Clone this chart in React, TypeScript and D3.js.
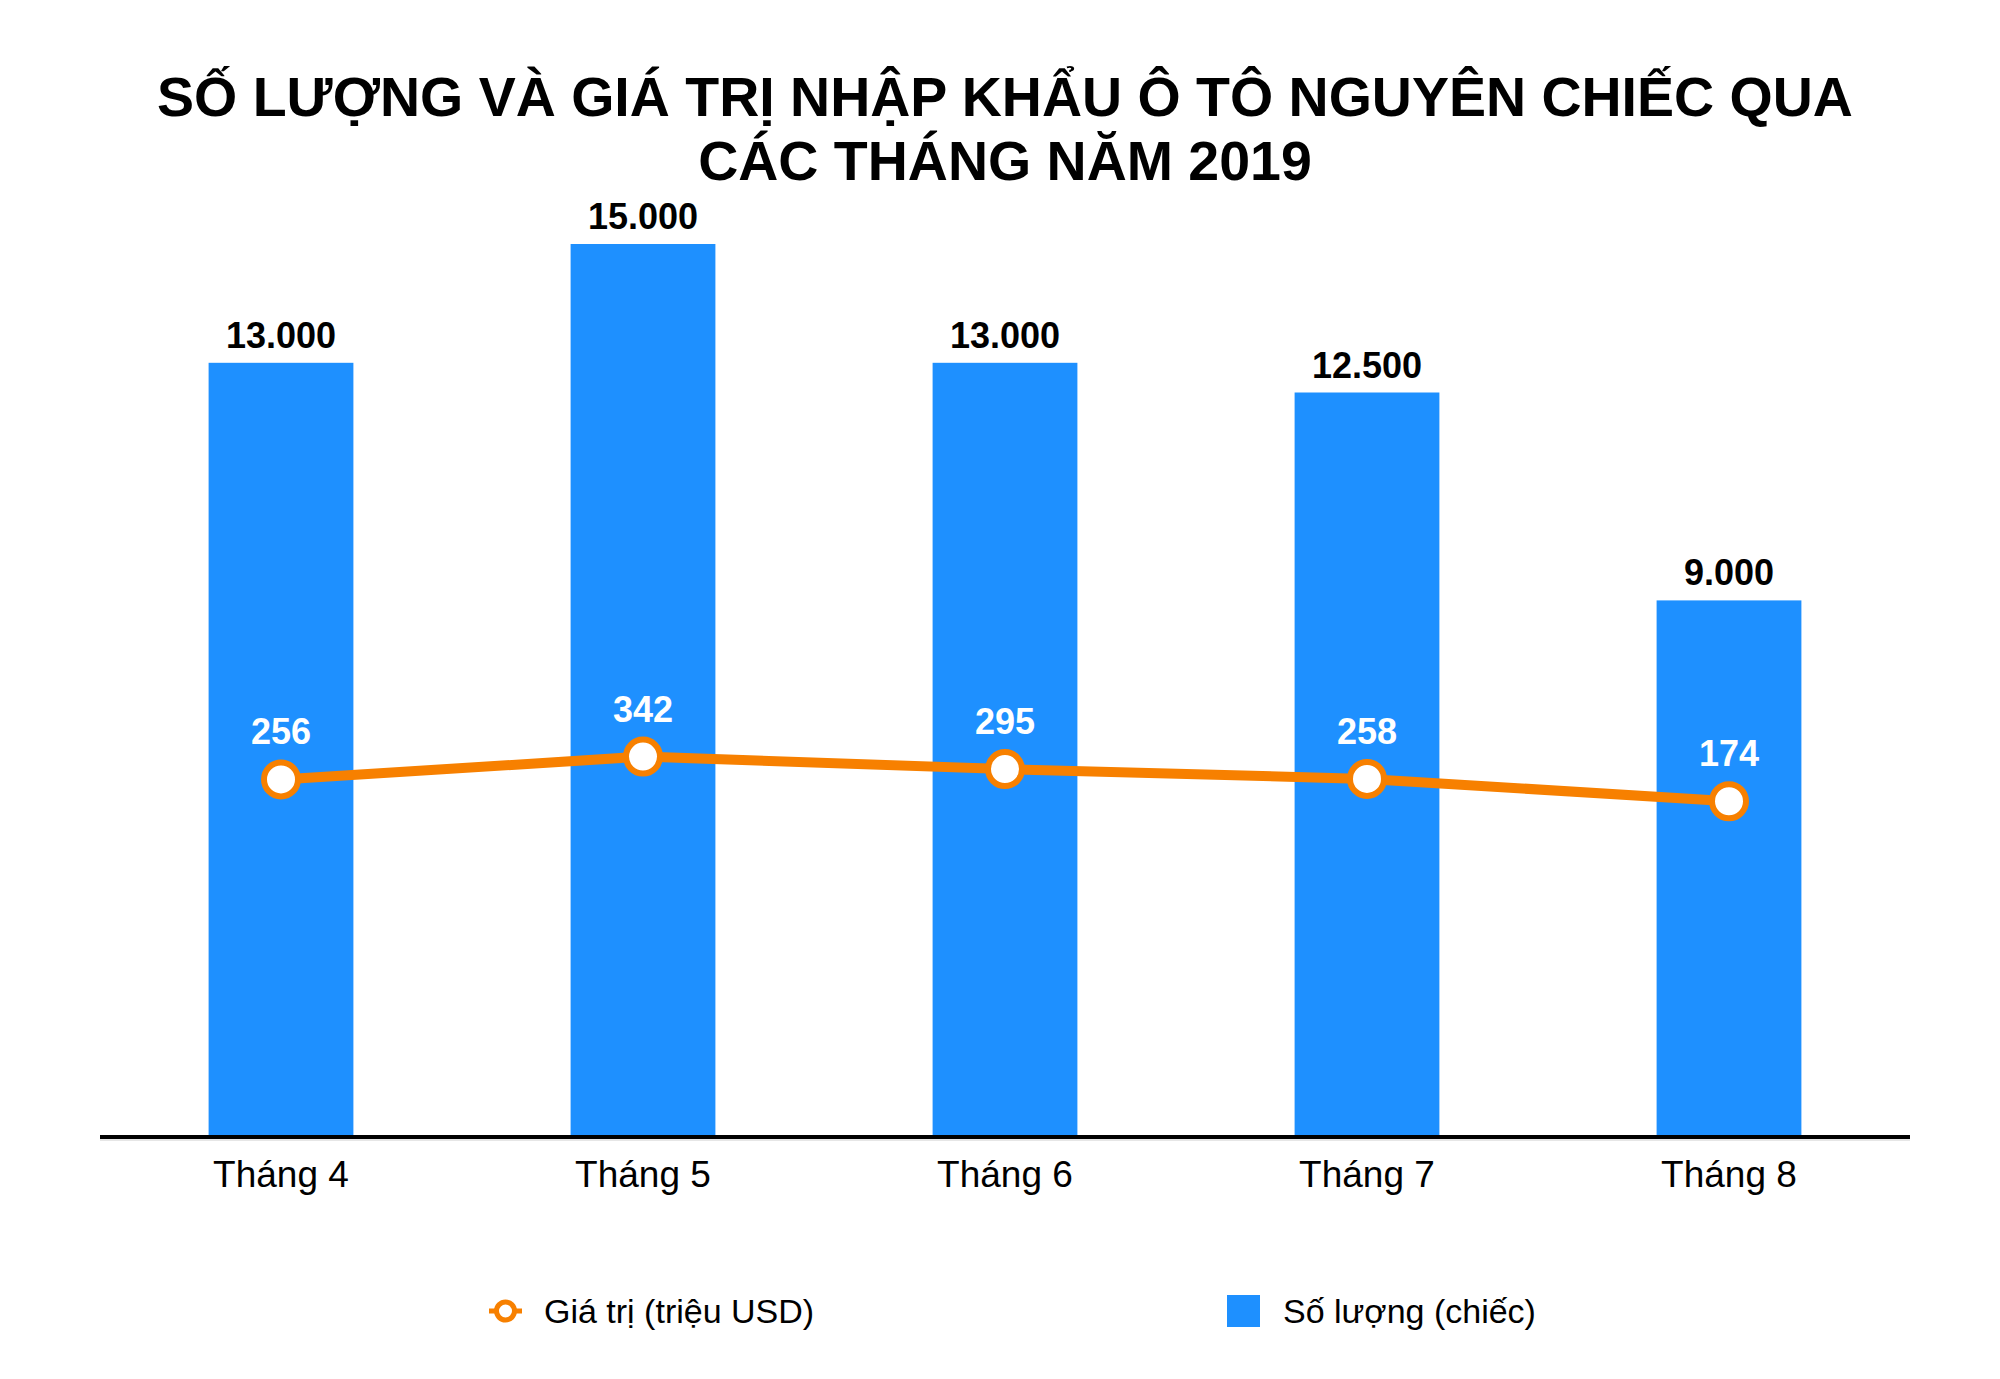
import React from "react";
import * as d3 from "d3";

const months = ["Tháng 4", "Tháng 5", "Tháng 6", "Tháng 7", "Tháng 8"];
const quantity = [13000, 15000, 13000, 12500, 9000];
const value = [256, 342, 295, 258, 174];
const titleLines = [
    "SỐ LƯỢNG VÀ GIÁ TRỊ NHẬP KHẨU Ô TÔ NGUYÊN CHIẾC QUA",
    "CÁC THÁNG NĂM 2019",
];
const legendLabels = ["Giá trị (triệu USD)", "Số lượng (chiếc)"];

const W = 2000;
const H = 1379;
const BLUE = "#1e90ff";
const ORANGE = "#f78000";
const FONT = "'Liberation Sans', Arial, Helvetica, sans-serif";

// thousands with a dot, like 13.000
const fmt = (v: number) => d3.format(",")(v).replace(/,/g, ".");

export default function App() {
    const x = d3.scaleBand<string>().domain(months).range([100, 1910]).padding(0);
    const y = d3.scaleLinear().domain([0, 15000]).range([1135, 244]);
    const y2 = d3.scaleLinear().domain([0, 400]).range([847.5, 741.2]);
    const barW = x.bandwidth() * 0.4;
    const cx = (m: string) => (x(m) || 0) + x.bandwidth() / 2;
    const midX = (100 + 1910) / 2;

    const line = d3.line<number>()
        .x((_, i) => cx(months[i]))
        .y(d => y2(d));

    return (
        <div style={{ position: "absolute", left: 0, top: 0 }}>
            <svg width={W} height={H} style={{ display: "block", background: "#fff" }} fontFamily={FONT}>
                <rect width={W} height={H} fill="#fff" />

                {/* Title */}
                {titleLines.map((t, i) => (
                    <text key={i} x={midX} y={116 + i * 64} textAnchor="middle" fontSize={55.5} fontWeight={700} fill="#000">
                        {t}
                    </text>
                ))}

                {/* Bars */}
                {quantity.map((q, i) => (
                    <g key={months[i]}>
                        <rect x={cx(months[i]) - barW / 2} y={y(q)} width={barW} height={y(0) - y(q)} fill={BLUE} />
                        <text x={cx(months[i])} y={y(q) - 15} textAnchor="middle" fontSize={36} fontWeight={700} fill="#000">
                            {fmt(q)}
                        </text>
                    </g>
                ))}

                {/* Axis */}
                <line x1={100} x2={1910} y1={1140} y2={1140} stroke="#e6e6e6" strokeWidth={2} />
                <line x1={100} x2={1910} y1={1137} y2={1137} stroke="#000" strokeWidth={4} />
                {months.map(m => (
                    <text key={m} x={cx(m)} y={1187} textAnchor="middle" fontSize={37} fill="#000">
                        {m}
                    </text>
                ))}

                {/* Line series */}
                <path d={line(value) || ""} fill="none" stroke={ORANGE} strokeWidth={10} strokeLinejoin="round" />
                {value.map((v, i) => (
                    <g key={i}>
                        <circle cx={cx(months[i])} cy={y2(v)} r={17} fill="#fff" stroke={ORANGE} strokeWidth={6} />
                        <text x={cx(months[i])} y={y2(v) - 35} textAnchor="middle" fontSize={36} fontWeight={700} fill="#fff">
                            {v}
                        </text>
                    </g>
                ))}

                {/* Legend */}
                <line x1={489} x2={522} y1={1311} y2={1311} stroke={ORANGE} strokeWidth={5} />
                <circle cx={505.5} cy={1311} r={9} fill="#fff" stroke={ORANGE} strokeWidth={5} />
                <text x={544} y={1323} fontSize={34} fill="#000">{legendLabels[0]}</text>
                <rect x={1227} y={1295} width={33} height={32} fill={BLUE} />
                <text x={1283} y={1323} fontSize={34} fill="#000">{legendLabels[1]}</text>
            </svg>
        </div>
    );
}
